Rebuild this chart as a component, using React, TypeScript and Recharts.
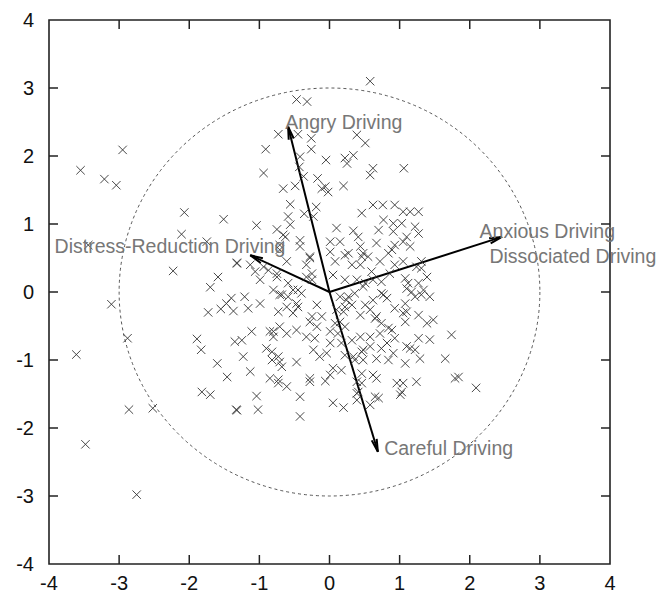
import React from "react";
import { ReferenceArea, ReferenceDot, ReferenceLine, Scatter, ScatterChart, XAxis, YAxis } from "recharts";

// biplot scores
const scores: [number, number][] = [
  [-3.55, 1.79], [-2.95, 2.09], [-3.21, 1.66], [-3.04, 1.57], [-2.07, 1.17], [-1.51, 1.07], [-2.11, 0.85], [-3.44, 0.69], [-1.75, 0.74],
  [-2.23, 0.31], [-1.59, 0.22], [-1.7, 0.07], [-1.32, 0.43], [-3.11, -0.18], [-1.4, -0.09], [-1.47, -0.17], [-1.55, -0.25], [-1.73, -0.3],
  [-1.37, -0.28], [-2.88, -0.68], [-3.61, -0.92], [-1.89, -0.69], [-1.83, -0.85], [-1.35, -0.73], [-1.6, -1.05], [-1.46, -1.25],
  [-1.82, -1.47], [-1.7, -1.51], [-1.33, -1.73], [-2.86, -1.73], [-2.52, -1.71], [-3.48, -2.24], [-2.75, -2.98],
  [0.58, 3.1], [-0.47, 2.83], [-0.32, 2.8], [-0.73, 2.32], [-0.45, 2.32], [-0.26, 2.26], [-0.26, 2.1], [0.39, 2.31], [0.51, 2.19],
  [-0.91, 2.1], [-0.42, 1.99], [-0.05, 1.94], [0.22, 1.97], [0.34, 2.01], [0.25, 1.89], [-0.94, 1.75], [-0.43, 1.84], [0.62, 1.82],
  [0.58, 1.72], [1.06, 1.82], [-0.66, 1.52], [-0.49, 1.56], [-0.37, 1.7], [-0.17, 1.67], [-0.06, 1.55], [-0.02, 1.47], [0.2, 1.56],
  [-0.11, 1.52], [-0.56, 1.29], [-0.19, 1.25], [-0.36, 1.15], [-0.59, 1.11], [-0.23, 1.11], [-1.04, 0.98], [-0.75, 0.92], [-0.56, 0.99],
  [-0.66, 0.84], [-0.42, 0.76], [0.46, 1.16], [0.62, 1.28], [0.76, 1.28], [0.93, 1.28], [1.05, 1.18], [1.15, 1.18], [1.27, 1.18],
  [0.77, 1.06], [0.91, 1.01], [1.03, 1.01], [1.22, 0.96], [0.1, 0.94], [0.34, 0.9], [0.7, 0.91], [0.91, 0.89], [1.27, 0.86],
  [0.01, 0.74], [0.15, 0.74], [0.41, 0.81], [0.67, 0.72], [0.93, 0.69], [1.05, 0.74], [1.15, 0.67], [0.01, 0.59], [0.27, 0.57],
  [0.48, 0.57], [0.89, 0.62], [-0.71, 0.69], [-0.42, 0.67],
  [-1.13, 0.4], [-1.06, 0.3], [-0.99, 0.18], [-0.75, 0.22], [-0.59, 0.13], [-0.52, 0.03], [-0.71, 0.62], [-0.28, 0.52], [-0.33, 0.4],
  [-0.25, 0.27], [0.08, 0.45], [0.05, 0.25], [0.22, 0.54], [0.32, 0.4], [0.39, 0.18], [0.22, 0.18], [-0.63, 0.81],
  [1.1, 0.81], [0.44, 0.67], [0.84, 0.57], [0.46, 0.52], [0.72, 0.45], [1.31, 0.45], [0.44, 0.4], [0.6, 0.3], [0.93, 0.4], [1.31, 0.35],
  [1.39, 0.22], [1.08, 0.2], [1.12, 0.13], [1.27, 0.13], [0.51, 0.13], [0.74, 0.15],
  [1.34, 0.03], [1.43, -0.07], [1.22, -0.07], [1.08, -0.17], [1.1, -0.29], [1.27, -0.34], [1.48, -0.41], [1.39, -0.46], [1.74, -0.63],
  [1.27, -0.68], [1.43, -0.7], [1.1, -0.8], [1.22, -0.85], [1.29, -0.98], [1.65, -0.98], [1.08, -1.05], [1.79, -1.27], [1.84, -1.25],
  [2.09, -1.41], [1.24, -1.32], [1.05, -1.34], [1.03, -1.47],
  [0.77, -0.04], [0.62, -0.12], [0.51, -0.19], [1.31, -0.04], [0.93, -0.24], [0.44, -0.34], [0.65, -0.39], [0.84, -0.53], [0.89, -0.56],
  [0.74, -0.46], [1.08, -0.44], [0.44, -0.66], [0.58, -0.66], [0.93, -0.68], [1.15, -0.83], [0.74, -0.83], [0.46, -0.88], [0.91, -0.9],
  [0.67, -0.98], [0.48, -1.0], [0.84, -1.0], [0.62, -1.22], [0.46, -1.2], [0.96, -1.34], [1.01, -1.51], [0.7, -1.56], [0.58, -1.66],
  [-1.04, -1.53], [-1.32, -1.74], [-1.02, -1.73], [-0.42, -1.54], [-0.42, -1.83], [0.05, -1.63], [0.2, -1.7], [0.39, -1.59], [0.41, -1.47],
  [-0.28, -1.32], [-0.06, -1.31], [-0.73, -1.34], [-0.61, -1.39],
  [-1.16, -0.24], [-0.99, -0.17], [-1.11, -0.58], [-0.73, -0.29], [-0.68, -0.04], [-0.59, -0.07], [-0.45, -0.22], [-0.8, -0.58],
  [-0.61, -0.61], [-0.47, -0.56], [-0.33, -0.66], [-0.21, -0.68], [-0.25, -0.36], [-0.11, -0.36], [-0.18, -0.19], [-0.9, -0.83],
  [-0.82, -0.88], [-0.73, -0.95], [-0.71, -1.03], [-0.47, -1.03], [-1.13, -1.17], [-0.85, -1.27], [-0.73, -1.29], [-0.28, -1.27],
  [0.01, -0.75], [-0.04, -0.9], [0.05, -1.12], [0.17, -1.15], [0.08, -0.46], [0.15, -0.44], [0.22, -0.51], [0.1, -0.26], [0.22, -0.22],
  [0.32, -0.19], [0.27, -0.07], [0.36, -0.02], [0.17, -0.75], [0.32, -0.71], [0.22, -0.93], [0.34, -0.95], [0.01, -0.58], [0.12, -0.61],
  [-1.32, 0.42], [-1.21, -0.07], [-1.25, -0.71], [-1.23, -0.95], [-0.82, -1.0], [-0.68, -1.1], [0.55, 0.52], [1.05, 0.45], [1.24, 0.37],
  [0.86, 0.27], [0.62, 0.18], [0.48, 0.08], [0.74, -0.02], [0.82, -0.09], [1.1, 0.05], [1.17, 0.0], [0.15, -0.07], [0.24, -0.12],
  [0.2, -0.29], [0.58, -0.26], [0.67, -0.36], [1.05, -0.31], [0.72, -0.61], [0.82, -0.75], [0.48, -0.85], [0.58, -0.8], [0.36, -1.0],
  [0.01, -1.22], [0.39, -1.32], [0.46, -1.34], [0.67, -1.27], [0.39, -1.49], [0.65, -1.54], [-0.23, -0.85], [-0.14, -0.95],
  [-0.28, -0.44], [-0.18, -0.51], [-0.61, -0.22], [-0.52, -0.31], [-0.8, 0.03], [-0.71, -0.04], [-0.47, -0.17], [-0.85, -0.58],
  [-0.8, -0.66], [-0.71, -0.51], [-0.45, 0.03], [-0.4, -0.02], [-0.33, 0.22], [-0.25, 0.18], [-0.75, 0.27], [-0.61, 0.45],
  [-0.28, 0.5], [-0.94, 0.37], [-0.87, 0.32],
];

// loading arrows (tip of each vector)
const loadingNames = ["Angry Driving", "Distress-Reduction Driving", "Anxious Driving", "Careful Driving"];
const loadingX = [-0.59, -1.13, 2.46, 0.69];
const loadingY = [2.43, 0.54, 0.81, -2.35];

// where each variable name sits (left end of the text)
const labelNames = ["Angry Driving", "Distress-Reduction Driving", "Anxious Driving", "Dissociated Driving", "Careful Driving"];
const labelX = [-0.63, -3.92, 2.14, 2.28, 0.78];
const labelY = [2.5, 0.68, 0.9, 0.53, -2.29];

const ticks = [-4, -3, -2, -1, 0, 1, 2, 3, 4];
const circleRadius = 3;

const W = 670;
const H = 597;
const M = { top: 20, right: 60, left: 9, bottom: 3 };
const Y_AXIS_W = 40;
const X_AXIS_H = 30;
const PLOT_LEFT = M.left + Y_AXIS_W;
const PLOT_RIGHT = W - M.right;
const PLOT_TOP = M.top;
const PLOT_BOTTOM = H - M.bottom - X_AXIS_H;
const TICK = 9;
const AXIS_COLOR = "#222";
const FONT = "'Liberation Sans', Arial, sans-serif";

const points = scores.map(([x, y]) => ({ x, y }));

const Cross = (props: any) => {
  const { cx, cy } = props;
  const s = 4.2;
  return (
    <g stroke="#333" strokeWidth={0.9}>
      <line x1={cx - s} y1={cy - s} x2={cx + s} y2={cy + s} />
      <line x1={cx - s} y1={cy + s} x2={cx + s} y2={cy - s} />
    </g>
  );
};

const XTick = (props: any) => {
  const { x, payload } = props;
  const v = payload.value;
  const inner = v > ticks[0] && v < ticks[ticks.length - 1];
  return (
    <g>
      {inner && <line x1={x} x2={x} y1={PLOT_BOTTOM} y2={PLOT_BOTTOM - TICK} stroke={AXIS_COLOR} strokeWidth={1.5} />}
      {inner && <line x1={x} x2={x} y1={PLOT_TOP} y2={PLOT_TOP + TICK} stroke={AXIS_COLOR} strokeWidth={1.5} />}
      <text x={x} y={PLOT_BOTTOM + 26} textAnchor="middle" fontSize={20} fontFamily={FONT} fill="#111">
        {v}
      </text>
    </g>
  );
};

const YTick = (props: any) => {
  const { y, payload } = props;
  const v = payload.value;
  const inner = v > ticks[0] && v < ticks[ticks.length - 1];
  return (
    <g>
      {inner && <line x1={PLOT_LEFT} x2={PLOT_LEFT + TICK} y1={y} y2={y} stroke={AXIS_COLOR} strokeWidth={1.5} />}
      {inner && <line x1={PLOT_RIGHT} x2={PLOT_RIGHT - TICK} y1={y} y2={y} stroke={AXIS_COLOR} strokeWidth={1.5} />}
      <text x={PLOT_LEFT - 15} y={y + 7} textAnchor="end" fontSize={20} fontFamily={FONT} fill="#111">
        {v}
      </text>
    </g>
  );
};

const Arrow = (props: any) => {
  const { x1, y1, x2, y2 } = props;
  const a = Math.atan2(y2 - y1, x2 - x1);
  const len = 13;
  const spread = 0.2;
  const ax = x2 - len * Math.cos(a - spread);
  const ay = y2 - len * Math.sin(a - spread);
  const bx = x2 - len * Math.cos(a + spread);
  const by = y2 - len * Math.sin(a + spread);
  return (
    <g stroke="#000" strokeWidth={2} fill="none">
      <line x1={x1} y1={y1} x2={x2} y2={y2} />
      <polyline points={`${ax},${ay} ${x2},${y2} ${bx},${by}`} strokeLinejoin="miter" />
    </g>
  );
};

const Ellipse = (props: any) => {
  const { x, y, width, height } = props;
  return (
    <ellipse
      cx={x + width / 2}
      cy={y + height / 2}
      rx={width / 2}
      ry={height / 2}
      fill="none"
      stroke="#444"
      strokeWidth={0.9}
      strokeDasharray="3 3"
    />
  );
};

export default function App() {
  return (
    <div style={{ position: "absolute", left: 0, top: 0, background: "#fff" }}>
      <ScatterChart width={W} height={H} margin={M}>
        <XAxis
          type="number"
          dataKey="x"
          domain={[-4, 4]}
          ticks={ticks}
          allowDataOverflow
          axisLine={false}
          tickLine={false}
          tickSize={0}
          tickMargin={0}
          height={X_AXIS_H}
          tick={<XTick />}
          interval={0}
        />
        <YAxis
          type="number"
          dataKey="y"
          domain={[-4, 4]}
          ticks={ticks}
          allowDataOverflow
          axisLine={false}
          tickLine={false}
          tickSize={0}
          tickMargin={0}
          width={Y_AXIS_W}
          tick={<YTick />}
          interval={0}
        />
        <ReferenceArea
          x1={-circleRadius}
          x2={circleRadius}
          y1={-circleRadius}
          y2={circleRadius}
          shape={<Ellipse />}
        />
        <ReferenceArea x1={-4} x2={4} y1={-4} y2={4} fill="none" fillOpacity={0} stroke={AXIS_COLOR} strokeWidth={1.6} />
        <Scatter data={points} shape={<Cross />} isAnimationActive={false} />
        {loadingNames.map((n, i) => (
          <ReferenceLine
            key={n}
            segment={[
              { x: 0, y: 0 },
              { x: loadingX[i], y: loadingY[i] },
            ]}
            shape={<Arrow />}
          />
        ))}
        {labelNames.map((n, i) => (
          <ReferenceDot
            key={n}
            x={labelX[i]}
            y={labelY[i]}
            r={0}
            shape={(p: any) => (
              <text x={p.cx} y={p.cy + 7} fontSize={19.5} fontFamily={FONT} fill="#777">
                {n}
              </text>
            )}
          />
        ))}
      </ScatterChart>
    </div>
  );
}
